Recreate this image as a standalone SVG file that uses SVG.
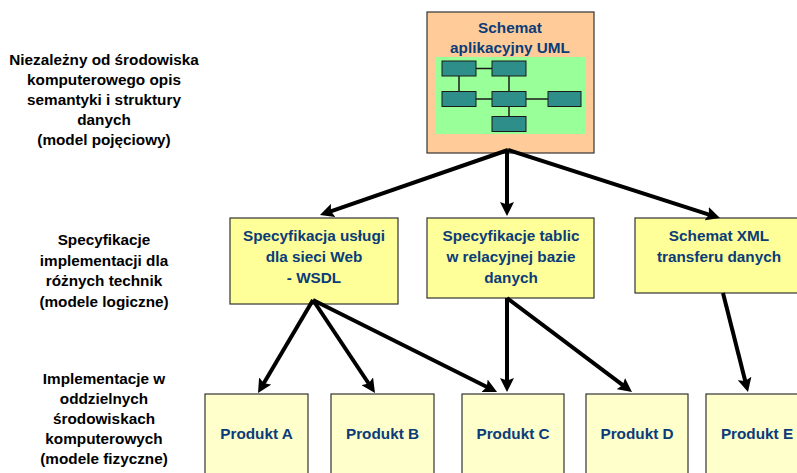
<svg xmlns="http://www.w3.org/2000/svg" width="797" height="473" viewBox="0 0 797 473">
<style>
.lbl{font-family:"Liberation Sans",Arial,sans-serif;font-weight:bold;font-size:15.3px;fill:#000;text-anchor:middle}
.bt{font-family:"Liberation Sans",Arial,sans-serif;font-weight:bold;font-size:15.3px;fill:#0B3C78;text-anchor:middle}
.box{stroke:#333;stroke-width:1.2}
.mid{fill:#FFFF99}
.prod{fill:#FFFFCC}
.cls{fill:#2E8E8A;stroke:#1a1a1a;stroke-width:1}
.cl{stroke:#1a1a1a;stroke-width:1.5;fill:none}
.arr{stroke:#000;stroke-width:4;fill:none;marker-end:url(#ah)}
</style>
<defs>
<marker id="ah" markerUnits="userSpaceOnUse" viewBox="0 0 14 14" markerWidth="14" markerHeight="14" refX="5" refY="7" orient="auto">
<path d="M0,0 L14,7 L0,14 L2.5,7 z" fill="#000"/>
</marker>
</defs>
<rect width="797" height="473" fill="#fff"/>

<g id="label-conceptual">
<text class="lbl" x="104" y="65">Niezależny od środowiska</text>
<text class="lbl" x="104" y="85">komputerowego opis</text>
<text class="lbl" x="104" y="105">semantyki i struktury</text>
<text class="lbl" x="104" y="125">danych</text>
<text class="lbl" x="104" y="145">(model pojęciowy)</text>
</g>
<g id="label-logical">
<text class="lbl" x="104" y="245">Specyfikacje</text>
<text class="lbl" x="104" y="265.5">implementacji dla</text>
<text class="lbl" x="104" y="286">różnych technik</text>
<text class="lbl" x="104" y="306.5">(modele logiczne)</text>
</g>
<g id="label-physical">
<text class="lbl" x="104" y="384">Implementacje w</text>
<text class="lbl" x="104" y="404">oddzielnych</text>
<text class="lbl" x="104" y="424">środowiskach</text>
<text class="lbl" x="104" y="444">komputerowych</text>
<text class="lbl" x="104" y="464">(modele fizyczne)</text>
</g>

<g id="uml">
<rect class="box" x="427" y="12" width="167" height="141" fill="#FFCC99"/>
<text class="bt" x="510" y="33">Schemat</text>
<text class="bt" x="510" y="52.5">aplikacyjny UML</text>
<rect x="436" y="57" width="150" height="77" fill="#99FF99"/>
<path class="cl" d="M476,68.5 H492 M459,76 V92 M509,76 V92 M476,99 H492 M526,99 H548 M509,106 V117"/>
<rect class="cls" x="442" y="61" width="34" height="15"/>
<rect class="cls" x="492" y="61" width="34" height="15"/>
<rect class="cls" x="442" y="91.5" width="34" height="15"/>
<rect class="cls" x="492" y="91.5" width="34" height="15"/>
<rect class="cls" x="548" y="91.5" width="33" height="15"/>
<rect class="cls" x="492" y="116.5" width="34" height="15"/>
</g>

<g id="wsdl">
<rect class="box mid" x="230" y="218" width="168" height="86"/>
<text class="bt" x="314" y="240.5">Specyfikacja usługi</text>
<text class="bt" x="314" y="261.5">dla sieci Web</text>
<text class="bt" x="314" y="282.5">- WSDL</text>
</g>
<g id="tables">
<rect class="box mid" x="427" y="218" width="167" height="80"/>
<text class="bt" x="511" y="240.5">Specyfikacje tablic</text>
<text class="bt" x="511" y="261.5">w relacyjnej bazie</text>
<text class="bt" x="511" y="282.5">danych</text>
</g>
<g id="xml">
<rect class="box mid" x="635" y="218" width="168" height="75"/>
<text class="bt" x="719" y="240.5">Schemat XML</text>
<text class="bt" x="719" y="261.5">transferu danych</text>
</g>

<g id="prodA"><rect class="box prod" x="205" y="394" width="103" height="90"/><text class="bt" x="256.5" y="439">Produkt A</text></g>
<g id="prodB"><rect class="box prod" x="331" y="394" width="103" height="90"/><text class="bt" x="382.5" y="438.5">Produkt B</text></g>
<g id="prodC"><rect class="box prod" x="462" y="394" width="102" height="90"/><text class="bt" x="513" y="439">Produkt C</text></g>
<g id="prodD"><rect class="box prod" x="586" y="394" width="102" height="90"/><text class="bt" x="637" y="439">Produkt D</text></g>
<g id="prodE"><rect class="box prod" x="706" y="394" width="102" height="90"/><text class="bt" x="757" y="439">Produkt E</text></g>

<g id="connectors">
<line class="arr" x1="508" y1="150" x2="328.5" y2="212.1"/>
<line class="arr" x1="507" y1="150" x2="507" y2="207"/>
<line class="arr" x1="508" y1="150" x2="711.4" y2="215.3"/>
<line class="arr" x1="313" y1="300" x2="262.6" y2="385.3"/>
<line class="arr" x1="313" y1="300" x2="370" y2="385.5"/>
<line class="arr" x1="313" y1="300" x2="489" y2="388"/>
<line class="arr" x1="507" y1="298" x2="507" y2="383"/>
<line class="arr" x1="507" y1="298" x2="624.8" y2="386.6"/>
<line class="arr" x1="723" y1="293" x2="745.8" y2="383.3"/>
</g>
</svg>
